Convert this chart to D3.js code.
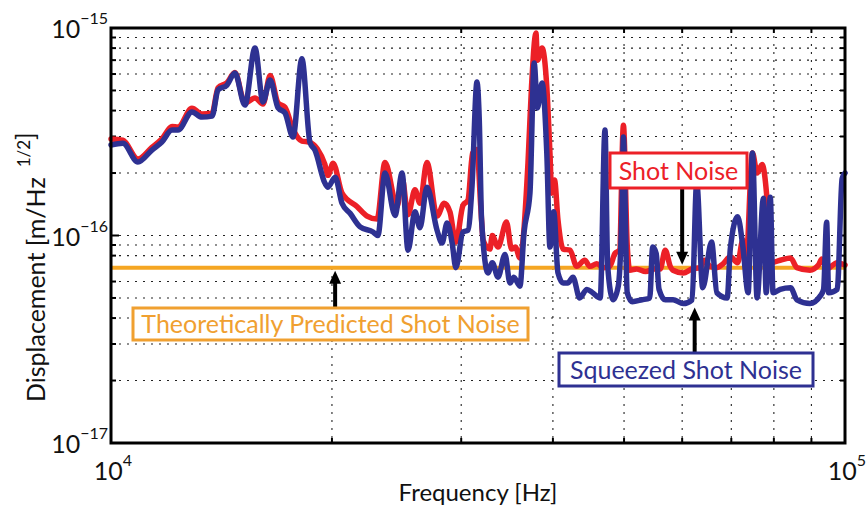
<!DOCTYPE html>
<html lang="en">
<head>
<meta charset="utf-8">
<title>Displacement noise spectrum</title>
<script src="https://cdnjs.cloudflare.com/ajax/libs/d3/7.8.5/d3.min.js"></script>
<style>
  body { margin: 0; background: #fff; }
  text { font-family: Lato, "Open Sans", sans-serif; fill: #111; }
  .grid line { stroke: #222; stroke-width: 1.1; stroke-dasharray: 2,6; }
  .trace { fill: none; stroke-linejoin: round; stroke-linecap: round; }
</style>
</head>
<body>
<script>
// frequencies in kHz, amplitudes in units of 1e-16 m/sqrt(Hz)
var shotFreq = [10.0, 10.38, 10.88, 11.37, 11.73, 12.11, 12.34, 12.89, 13.3, 13.73, 13.99, 14.39, 14.75, 15.22, 15.71, 16.11, 16.47, 16.89, 17.26, 17.7, 18.2, 18.6, 19.1, 19.56, 19.75, 20.07, 20.64, 21.63, 22.33, 23.04, 23.62, 24.54, 24.92, 25.39, 25.95, 26.36, 26.94, 27.81, 28.44, 28.96, 29.5, 30.17, 30.64, 31.1, 31.52, 31.9, 32.14, 32.83, 33.07, 33.67, 34.58, 35.13, 35.55, 36.07, 36.99, 37.4, 37.93, 38.1, 38.66, 39.24, 39.63, 39.85, 40.2, 40.64, 41.3, 42.2, 43.1, 44.2, 44.93, 45.9, 46.9, 47.8, 48.6, 49.3, 49.9, 50.5, 50.9, 52.0, 53.5, 55.0, 56.0, 56.9, 57.8, 58.3, 60.2, 61.9, 63.5, 64.4, 65.5, 66.9, 68.2, 69.8, 71.4, 72.6, 73.3, 74.8, 75.9, 77.1, 78.3, 79.3, 81.6, 84.3, 86.0, 89.6, 92.0, 93.0, 94.4, 97.6, 100];
var shotAmp = [2.92, 2.88, 2.34, 2.66, 2.92, 3.35, 3.33, 4.1, 3.85, 3.88, 5.15, 5.45, 6.1, 4.35, 4.6, 4.3, 5.9, 4.35, 4.15, 3.25, 2.85, 2.82, 2.62, 2.2, 1.95, 2.23, 1.6, 1.38, 1.24, 1.2, 2.25, 1.38, 1.9, 1.26, 1.66, 1.43, 2.25, 1.24, 1.43, 1.3, 0.93, 1.4, 1.48, 2.5, 2.6, 1.37, 0.95, 0.86, 1.0, 0.88, 1.16, 0.86, 0.88, 0.78, 2.23, 5.2, 9.45, 7.0, 8.0, 5.2, 2.5, 1.6, 1.85, 1.19, 0.86, 0.85, 0.71, 0.76, 0.71, 0.73, 0.7, 0.71, 0.82, 0.85, 3.4, 0.9, 0.68, 0.69, 0.67, 0.69, 0.69, 0.85, 0.71, 0.68, 0.66, 0.69, 0.7, 0.76, 0.71, 0.7, 0.73, 0.79, 0.74, 0.95, 0.74, 2.5, 2.0, 2.2, 1.5, 0.74, 0.76, 0.78, 0.7, 0.68, 0.72, 0.77, 0.69, 0.74, 0.72];

var sqzFreq = [10.0, 10.38, 10.88, 11.37, 11.73, 12.11, 12.34, 12.89, 13.3, 13.73, 13.99, 14.39, 14.75, 15.22, 15.71, 16.11, 16.47, 16.89, 17.26, 17.7, 18.2, 18.67, 18.96, 19.56, 19.75, 20.2, 20.64, 21.17, 21.85, 22.75, 23.1, 23.62, 24.38, 24.92, 25.39, 25.95, 26.36, 26.94, 27.81, 28.25, 28.7, 29.16, 29.5, 30.17, 30.64, 31.03, 31.52, 31.75, 31.98, 32.63, 33.07, 33.67, 34.42, 34.96, 35.38, 36.07, 36.53, 37.22, 37.72, 38.1, 38.66, 39.24, 39.63, 40.1, 40.64, 41.3, 41.9, 42.6, 43.5, 44.5, 45.3, 46.4, 47.1, 47.5, 48.3, 49.1, 49.7, 49.9, 50.5, 51.3, 52.9, 54.2, 54.7, 55.3, 55.8, 56.9, 58.3, 60.2, 61.9, 62.8, 64.0, 65.8, 66.9, 69.1, 69.8, 71.4, 72.6, 73.8, 74.8, 75.9, 77.4, 78.1, 79.1, 79.8, 81.6, 84.3, 86.0, 89.6, 92.5, 93.5, 94.4, 95.0, 97.6, 99.1, 100];
var sqzAmp = [2.73, 2.78, 2.26, 2.58, 2.82, 3.22, 3.22, 3.94, 3.72, 3.76, 5.03, 5.31, 6.07, 4.25, 8.0, 4.4, 5.62, 4.12, 3.9, 2.98, 7.1, 2.8, 2.58, 1.79, 1.71, 1.91, 1.43, 1.28, 1.1, 1.04, 1.0, 2.0, 1.25, 2.0, 0.85, 1.3, 1.09, 1.71, 1.06, 0.92, 1.15, 0.92, 0.7, 1.04, 1.06, 1.71, 5.49, 3.6, 1.19, 0.66, 0.74, 0.63, 0.81, 0.59, 0.63, 0.57, 1.03, 1.6, 6.78, 4.12, 5.43, 2.5, 0.88, 1.3, 0.66, 0.59, 0.59, 0.63, 0.5, 0.55, 0.53, 0.5, 3.22, 0.71, 0.49, 0.57, 1.48, 2.98, 0.53, 0.48, 0.49, 0.5, 0.88, 0.82, 0.55, 0.49, 0.49, 0.47, 0.49, 1.8, 0.56, 0.93, 0.53, 0.5, 0.87, 1.23, 0.88, 0.53, 2.5, 0.5, 1.51, 0.53, 1.53, 0.53, 0.55, 0.56, 0.49, 0.47, 0.51, 0.55, 1.16, 0.53, 0.55, 1.88, 2.0];

var theoryLevel = 0.7;          // predicted shot noise, x1e-16
var xTickExp = [4, 5];
var yTickExp = [-17, -16, -15];

var unit = 1e-16;
var width = 866, height = 506;
var margin = {left: 111, top: 28, right: 21, bottom: 63};
var innerW = width - margin.left - margin.right;
var innerH = height - margin.top - margin.bottom;

var svg = d3.select('body').append('svg')
  .attr('width', width)
  .attr('height', height);

var x = d3.scaleLog().domain([1e4, 1e5]).range([margin.left, margin.left + innerW]);
var y = d3.scaleLog().domain([1e-17, 1e-15]).range([margin.top + innerH, margin.top]);

// dotted grid at every log tick
var xMinor = d3.range(2, 10).map(function(k) { return k * 1e4; });
var yMinor = [];
[1e-17, 1e-16].forEach(function(dec) {
  d3.range(1, 10).forEach(function(k) { if (k * dec > 1e-17) yMinor.push(k * dec); });
});

var grid = svg.append('g').attr('class', 'grid');
grid.selectAll('.gx').data(xMinor).enter().append('line')
  .attr('x1', x).attr('x2', x)
  .attr('y1', margin.top).attr('y2', margin.top + innerH);
grid.selectAll('.gy').data(yMinor).enter().append('line')
  .attr('x1', margin.left).attr('x2', margin.left + innerW)
  .attr('y1', y).attr('y2', y);

// inward tick marks on all four sides
var ticks = svg.append('g').attr('stroke', '#000').attr('stroke-width', 2);
xMinor.forEach(function(f) {
  ticks.append('line').attr('x1', x(f)).attr('x2', x(f)).attr('y1', margin.top + innerH).attr('y2', margin.top + innerH - 5);
  ticks.append('line').attr('x1', x(f)).attr('x2', x(f)).attr('y1', margin.top).attr('y2', margin.top + 5);
});
yMinor.forEach(function(v) {
  var len = (v === 1e-16) ? 8 : 5;
  ticks.append('line').attr('y1', y(v)).attr('y2', y(v)).attr('x1', margin.left).attr('x2', margin.left + len);
  ticks.append('line').attr('y1', y(v)).attr('y2', y(v)).attr('x1', margin.left + innerW).attr('x2', margin.left + innerW - len);
});

// predicted shot noise level
svg.append('line')
  .attr('x1', x(1e4)).attr('x2', x(1e5))
  .attr('y1', y(theoryLevel * unit)).attr('y2', y(theoryLevel * unit))
  .attr('stroke', '#f5a623').attr('stroke-width', 4);

var line = d3.line()
  .x(function(d) { return x(d[0] * 1e3); })
  .y(function(d) { return y(d[1] * unit); })
  .curve(d3.curveMonotoneX);

var shotData = shotFreq.map(function(f, i) { return [f, shotAmp[i]]; });
var sqzData = sqzFreq.map(function(f, i) { return [f, sqzAmp[i]]; });

svg.append('path').attr('class', 'trace').datum(shotData)
  .attr('d', line).attr('stroke', '#ec2027').attr('stroke-width', 5.5);
svg.append('path').attr('class', 'trace').datum(sqzData)
  .attr('d', line).attr('stroke', '#2e3192').attr('stroke-width', 5.5);

// frame
svg.append('rect')
  .attr('x', margin.left).attr('y', margin.top)
  .attr('width', innerW).attr('height', innerH)
  .attr('fill', 'none').attr('stroke', '#000').attr('stroke-width', 3);

// tick labels with exponents
xTickExp.forEach(function(e) {
  var t = svg.append('text').attr('x', x(Math.pow(10, e)) + 2).attr('y', 480)
    .attr('text-anchor', 'middle').attr('font-size', 25);
  t.append('tspan').text('10');
  t.append('tspan').attr('font-size', 16).attr('dy', -14).text(e);
});
yTickExp.forEach(function(e) {
  var t = svg.append('text').attr('x', 108).attr('y', y(Math.pow(10, e)) + 10)
    .attr('text-anchor', 'end').attr('font-size', 25);
  t.append('tspan').text('10');
  t.append('tspan').attr('font-size', 16).attr('dy', -14).text('\u2212' + Math.abs(e));
});

// axis titles
svg.append('text')
  .attr('x', margin.left + innerW / 2).attr('y', 501)
  .attr('text-anchor', 'middle').attr('font-size', 24)
  .text('Frequency [Hz]');
var yl = svg.append('text')
  .attr('transform', 'translate(45,402) rotate(-90)')
  .attr('text-anchor', 'start').attr('font-size', 25);
yl.append('tspan').text('Displacement [m/Hz');
yl.append('tspan').attr('font-size', 17).attr('dy', -15).attr('dx', 10).text('1/2');
yl.append('tspan').attr('dy', 4).text(']');

// annotations: box, label, arrow from box to curve level
function arrow(x0, y0, y1) {
  var dir = y1 > y0 ? 1 : -1;
  svg.append('line').attr('x1', x0).attr('x2', x0).attr('y1', y0).attr('y2', y1 - dir * 10)
    .attr('stroke', '#000').attr('stroke-width', 4);
  svg.append('path')
    .attr('d', 'M' + (x0 - 6) + ',' + (y1 - dir * 13) + 'L' + x0 + ',' + y1 + 'L' + (x0 + 6) + ',' + (y1 - dir * 13) + 'Z')
    .attr('fill', '#000');
}
function box(x0, y0, w, h, color, label, fs) {
  svg.append('rect').attr('x', x0).attr('y', y0).attr('width', w).attr('height', h)
    .attr('fill', '#fff').attr('stroke', color).attr('stroke-width', 3);
  svg.append('text').attr('x', x0 + w / 2).attr('y', y0 + h / 2 + fs * 0.36)
    .attr('text-anchor', 'middle').attr('font-size', fs).style('fill', color).text(label);
}

arrow(x(6e4), 188, y(theoryLevel * unit) - 3);
box(610, 153, 137, 35, '#ec2027', 'Shot Noise', 25);

arrow(x(2.02e4), 308, y(theoryLevel * unit) + 3);
box(133, 308, 395, 32, '#f0a030', 'Theoretically Predicted Shot Noise', 25);

arrow(x(6.24e4), 354, y(0.45 * unit));
box(559, 353, 254, 33, '#2e3192', 'Squeezed Shot Noise', 25);
</script>
</body>
</html>
